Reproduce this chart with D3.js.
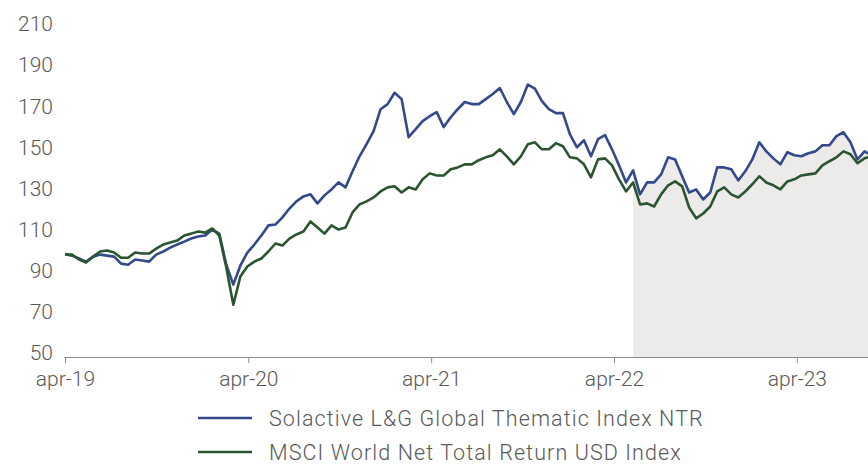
<!DOCTYPE html>
<meta charset="utf-8">
<style>
body { margin: 0; background: #fff; }
svg { display: block; font-family: Roboto, "Helvetica Neue", Arial, sans-serif; }
.tick-label { fill: #595959; font-size: 21px; font-weight: 300; }
.legend-label { fill: #595959; font-size: 21.5px; font-weight: 300; letter-spacing: 1.1px; }
</style>
<body>
<svg id="chart" width="868" height="464"></svg>
<script src="https://cdnjs.cloudflare.com/ajax/libs/d3/7.8.5/d3.min.js"></script>
<script>
// series sampled every two weeks from 1 apr 2019
var startDate = "2019-04-01";
var stepDays = 14;
var shadeStart = "2022-05-09";
var endDate = "2023-08-21";

var seriesNames = ["Solactive L&G Global Thematic Index NTR", "MSCI World Net Total Return USD Index"];
var seriesColors = ["#33498a", "#2a5530"];

var solactive = [100, 99.3, 97.9, 96.4, 98.8, 99.8, 99.3, 98.8, 95.4, 94.9,
  97.4, 96.9, 96.4, 99.8, 101.3, 103.2, 104.7, 106.1, 107.6, 108.6,
  109.1, 112.0, 110.0, 94.9, 85.2, 94.4, 100.8, 104.7, 109.1, 114.0,
  114.4, 117.9, 122.2, 125.7, 128.1, 129.1, 124.7, 128.6, 131.5, 134.9,
  132.5, 140.3, 147.6, 153.5, 159.8, 170.5, 173.0, 178.5, 175.4, 156.9,
  160.8, 164.7, 167.1, 169.1, 161.8, 166.6, 170.5, 174.0, 173.0, 173.0,
  175.4, 177.9, 180.8, 174.0, 168.1, 174.0, 182.5, 180.5, 174.4, 170.5,
  168.6, 168.6, 158.3, 152.0, 155.4, 147.6, 155.9, 157.9, 151.0, 143.2,
  134.9, 140.8, 129.1, 134.9, 134.9, 138.8, 147.1, 146.1, 137.9, 130.0,
  131.5, 126.6, 130.0, 142.2, 142.2, 141.3, 135.9, 140.3, 146.1, 154.4,
  150.0, 146.6, 143.7, 149.6, 148.1, 147.6, 149.1, 150.0, 153.0, 153.0,
  157.4, 159.3, 154.4, 146.1, 150.0, 148.1];

var msciWorld = [100, 99.8, 97.4, 95.9, 98.8, 101.3, 101.8, 100.8, 98.3, 98.3,
  100.8, 100.3, 100.3, 102.7, 104.7, 105.7, 106.6, 109.1, 110.0, 111.0,
  110.5, 112.5, 109.1, 93.5, 75.4, 89.1, 94.0, 96.4, 97.9, 101.3,
  105.2, 104.2, 107.6, 109.6, 111.0, 115.9, 113.0, 110.0, 114.0, 112.0,
  113.0, 120.3, 124.2, 125.7, 127.6, 130.5, 132.5, 133.0, 130.0, 132.5,
  131.5, 136.4, 139.3, 138.3, 138.3, 141.3, 142.2, 143.7, 143.7, 145.7,
  147.1, 148.1, 151.0, 147.6, 143.7, 147.6, 153.5, 154.4, 151.0, 151.0,
  154.0, 152.5, 147.1, 146.6, 143.7, 137.4, 146.1, 146.6, 143.2, 136.4,
  130.5, 134.9, 124.2, 124.7, 123.2, 129.1, 133.5, 135.4, 133.0, 122.7,
  117.4, 119.8, 123.2, 130.5, 132.5, 129.1, 127.6, 130.5, 134.0, 137.9,
  134.9, 133.5, 131.5, 135.4, 136.4, 138.3, 138.8, 139.3, 143.2, 145.2,
  147.1, 150.0, 148.6, 144.2, 146.6, 147.6];

var yTicks = [50, 70, 90, 110, 130, 150, 170, 190, 210];
var xTickDates = ["2019-04-01", "2020-04-01", "2021-04-01", "2022-04-01", "2023-04-01"];
var xTickLabels = ["apr-19", "apr-20", "apr-21", "apr-22", "apr-23"];

var parse = d3.timeParse("%Y-%m-%d");
var t0 = parse(startDate);
var dates = solactive.map(function (d, i) { return d3.timeDay.offset(t0, i * stepDays); });

var svg = d3.select("#chart");

var x = d3.scaleTime().domain([t0, parse(endDate)]).range([65, 868]);
var y = d3.scaleLinear().domain([50, 210]).range([357, 28]);

// shaded period under the thematic index
var shadeFrom = parse(shadeStart);
var shadeData = dates.map(function (d, i) { return { date: d, v: solactive[i] }; })
  .filter(function (d) { return d.date >= shadeFrom; });
svg.append("path")
  .datum(shadeData)
  .attr("fill", "#edebea")
  .attr("d", d3.area()
    .x(function (d) { return x(d.date); })
    .y0(y(50))
    .y1(function (d) { return y(d.v); }));

// y labels (no axis line)
svg.append("g").selectAll("text")
  .data(yTicks)
  .enter().append("text")
  .attr("class", "tick-label")
  .attr("x", 53)
  .attr("y", function (d) { return y(d) - 4; })
  .attr("dy", "0.35em")
  .attr("text-anchor", "end")
  .text(function (d) { return d; });

// x axis
var xAxis = d3.axisBottom(x)
  .tickValues(xTickDates.map(parse))
  .tickSize(6)
  .tickFormat(function (d, i) { return xTickLabels[i]; });
var gx = svg.append("g")
  .attr("transform", "translate(0," + y(50) + ")")
  .call(xAxis);
gx.select(".domain").attr("stroke", "#8c8c8c").attr("d", "M64.5,0.5H868");
gx.selectAll(".tick line").attr("stroke", "#8c8c8c");
gx.selectAll(".tick text")
  .attr("class", "tick-label")
  .attr("y", 14)
  .attr("dy", "0.71em")
  .style("font-family", "Roboto, sans-serif");

// lines
var line = d3.line()
  .x(function (d, i) { return x(dates[i]); })
  .y(function (d) { return y(d); });
[solactive, msciWorld].forEach(function (s, k) {
  svg.append("path")
    .datum(s)
    .attr("fill", "none")
    .attr("stroke", seriesColors[k])
    .attr("stroke-width", 2.6)
    .attr("stroke-linejoin", "round")
    .attr("d", line);
});

// legend
var legendY = [418, 452];
var lg = svg.append("g");
seriesNames.forEach(function (name, k) {
  lg.append("line")
    .attr("x1", 198).attr("x2", 252)
    .attr("y1", legendY[k]).attr("y2", legendY[k])
    .attr("stroke", seriesColors[k])
    .attr("stroke-width", 2.6);
  lg.append("text")
    .attr("class", "legend-label")
    .attr("x", 269)
    .attr("y", legendY[k])
    .attr("dy", "0.35em")
    .text(name);
});
</script>
</body>
